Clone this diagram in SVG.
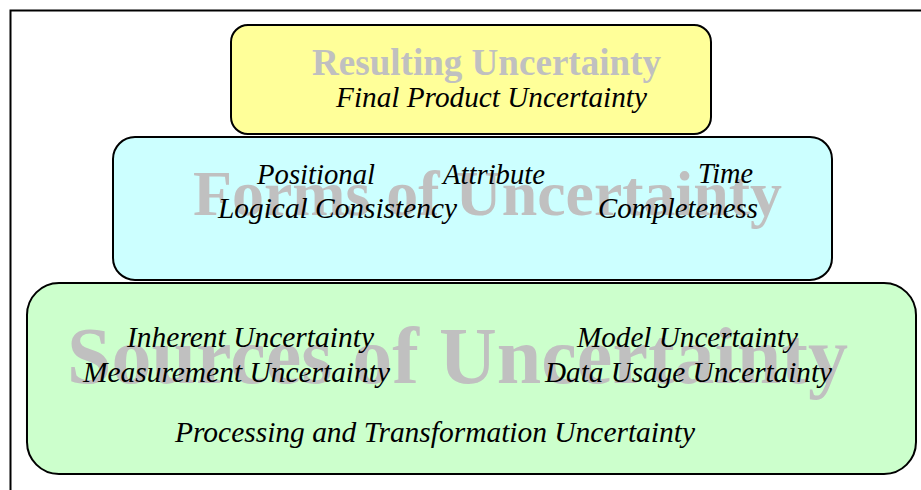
<svg xmlns="http://www.w3.org/2000/svg" width="921" height="490" viewBox="0 0 921 490">
  <style>
    .tier { stroke: #000; stroke-width: 2; }
    .title { font-family: "Liberation Serif", "Times New Roman", serif; font-weight: bold; fill: #c0c0c0; }
    .item { font-family: "Liberation Serif", "Times New Roman", serif; font-style: italic; font-size: 29px; fill: #000; }
  </style>
  <rect width="921" height="490" fill="#fff"/>
  <!-- outer frame (top and left edges) -->
  <path d="M10.5 490 V10.5 H921" fill="none" stroke="#000" stroke-width="2"/>

  <g id="sources">
    <rect class="tier" x="27" y="283" width="889" height="191" rx="32" fill="#ccffcc"/>
    <text class="title" x="67" y="383" font-size="80" textLength="781" lengthAdjust="spacingAndGlyphs">Sources of Uncertainty</text>
    <text class="item" x="127" y="347" textLength="247" lengthAdjust="spacingAndGlyphs">Inherent Uncertainty</text>
    <text class="item" x="83" y="382" textLength="307" lengthAdjust="spacingAndGlyphs">Measurement Uncertainty</text>
    <text class="item" x="577" y="347" textLength="221" lengthAdjust="spacingAndGlyphs">Model Uncertainty</text>
    <text class="item" x="545" y="382" textLength="287" lengthAdjust="spacingAndGlyphs">Data Usage Uncertainty</text>
    <text class="item" x="175" y="442" textLength="520" lengthAdjust="spacingAndGlyphs">Processing and Transformation Uncertainty</text>
  </g>

  <g id="forms">
    <rect class="tier" x="113" y="137" width="719" height="143" rx="22" fill="#ccffff"/>
    <text class="title" x="193" y="215" font-size="64" textLength="589" lengthAdjust="spacingAndGlyphs">Forms of Uncertainty</text>
    <text class="item" x="257" y="184" textLength="118" lengthAdjust="spacingAndGlyphs">Positional</text>
    <text class="item" x="443" y="184" textLength="102" lengthAdjust="spacingAndGlyphs">Attribute</text>
    <text class="item" x="698" y="183" textLength="55" lengthAdjust="spacingAndGlyphs">Time</text>
    <text class="item" x="218" y="218" textLength="239" lengthAdjust="spacingAndGlyphs">Logical Consistency</text>
    <text class="item" x="598" y="218" textLength="160" lengthAdjust="spacingAndGlyphs">Completeness</text>
  </g>

  <g id="resulting">
    <rect class="tier" x="231" y="25" width="480" height="109" rx="17" fill="#ffff99"/>
    <text class="title" x="312" y="75" font-size="37" textLength="349" lengthAdjust="spacingAndGlyphs">Resulting Uncertainty</text>
    <text class="item" x="336" y="107" textLength="311" lengthAdjust="spacingAndGlyphs">Final Product Uncertainty</text>
  </g>
</svg>
